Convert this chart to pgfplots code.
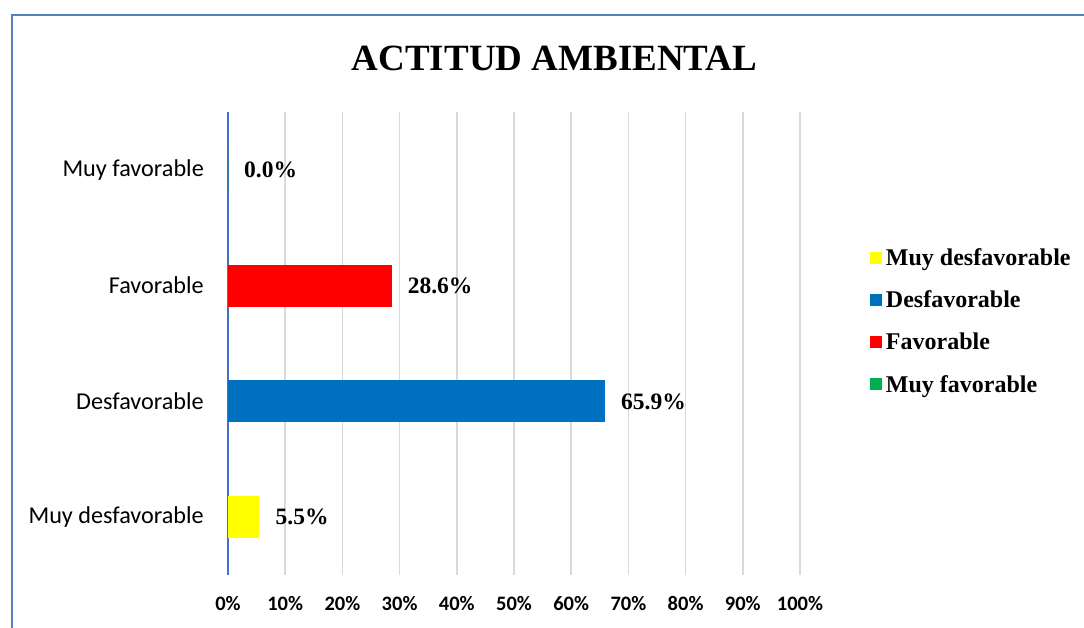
\documentclass[border=0pt]{standalone}
\usepackage{pgfplots}
\pgfplotsset{compat=1.18}
\usepackage{fontspec}
\setmainfont{Liberation Serif}
\newfontfamily\carlito{Carlito}
\definecolor{frameblue}{RGB}{79,129,189}
\definecolor{axisblue}{RGB}{68,114,196}
\definecolor{gridgray}{RGB}{217,217,217}
\definecolor{cyellow}{RGB}{255,255,0}
\definecolor{cblue}{RGB}{0,112,192}
\definecolor{cred}{RGB}{255,0,0}
\definecolor{cgreen}{RGB}{0,176,80}
\begin{document}
\begin{tikzpicture}[x=1pt,y=1pt]
\useasboundingbox (0,0) rectangle (1084,628);
\fill[white] (0,0) rectangle (1084,628);
\clip (0,0) rectangle (1084,628);
\draw[frameblue, line width=2.2pt] (12,-10) -- (12,613) -- (1100,613);
\node[font=\fontsize{37}{40}\selectfont\bfseries] at (554.5,570) {ACTITUD AMBIENTAL};
\begin{axis}[
  at={(228pt,53pt)}, anchor=south west,
  width=572pt, height=463pt, scale only axis,
  xmin=0, xmax=100, ymin=-0.5, ymax=3.5,
  xtick={0,10,...,100},
  xticklabel={\pgfmathprintnumber{\tick}\%},
  ytick={0,1,2,3},
  yticklabels={Muy desfavorable,Desfavorable,Favorable,Muy favorable},
  /pgf/number format/assume math mode=true,
  xticklabel style={font=\carlito\bfseries\fontsize{20.5}{22}\selectfont, inner sep=0pt, anchor=north, yshift=-21pt},
  yticklabel style={font=\carlito\fontsize{24.2}{26}\selectfont, inner sep=0pt, anchor=east, xshift=-24pt},
  major tick length=0pt,
  xmajorgrids, grid style={gridgray, line width=1.5pt},
  axis lines*=left,
  x axis line style={draw=none},
  y axis line style={axisblue, line width=1.1pt},
  xbar, bar width=42pt, bar shift=0pt,
  nodes near coords={\pgfmathprintnumber[fixed,fixed zerofill,precision=1]{\pgfplotspointmeta}\%},
  nodes near coords style={font=\bfseries\fontsize{23.5}{25}\selectfont, anchor=west, inner sep=0pt, xshift=16pt, black},
  point meta=explicit symbolic,
  legend style={at={(1.122,0.706)}, anchor=north west, draw=none, fill=none,
    font=\bfseries\fontsize{24}{26}\selectfont, row sep=24pt, inner sep=0pt,
    nodes={inner sep=0pt}, cells={anchor=west},
    /tikz/every odd column/.append style={column sep=4pt}},
  legend image code/.code={\fill[#1,draw=none] (0pt,-6pt) rectangle (12pt,6pt);},
]
\addplot[fill=cyellow, draw=none] coordinates {(5.5,0) [5.5]};
\addplot[fill=cblue, draw=none] coordinates {(65.9,1) [65.9]};
\addplot[fill=cred, draw=none] coordinates {(28.6,2) [28.6]};
\addplot[fill=cgreen, draw=none] coordinates {(0,3) [0.0]};
\legend{Muy desfavorable,Desfavorable,Favorable,Muy favorable}
\end{axis}
\end{tikzpicture}
\end{document}
